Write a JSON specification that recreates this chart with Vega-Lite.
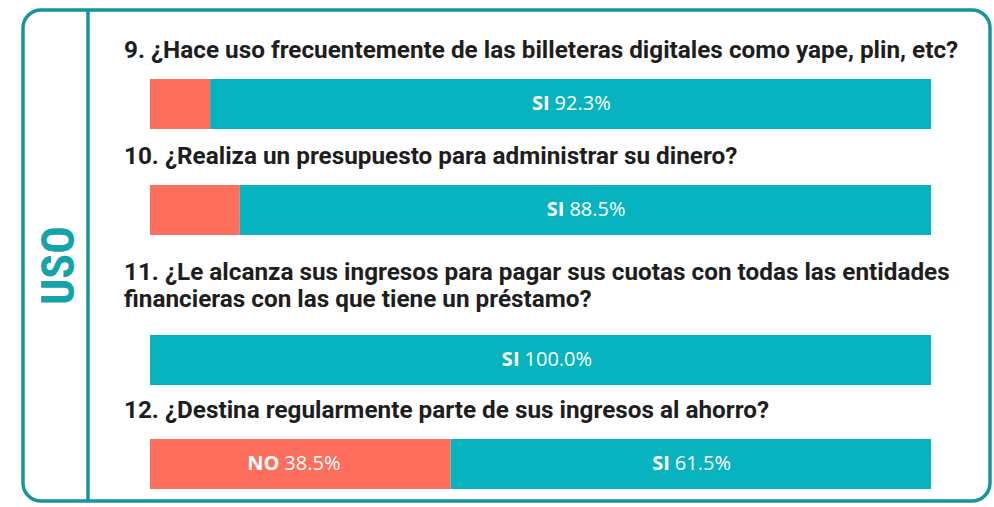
{
  "$schema": "https://vega.github.io/schema/vega-lite/v6.json",
  "width": 994,
  "height": 507,
  "autosize": {"type": "fit", "contains": "padding"},
  "padding": {"left": 23, "top": 8, "right": 4, "bottom": 4},
  "background": "white",
  "config": {
    "view": {"stroke": "#17959c", "strokeWidth": 3.5, "cornerRadius": 18}
  },
  "datasets": {
    "answers": [
      {"q": 9, "answer": "NO", "pct": 7.7},
      {"q": 9, "answer": "SI", "pct": 92.3},
      {"q": 10, "answer": "NO", "pct": 11.5},
      {"q": 10, "answer": "SI", "pct": 88.5},
      {"q": 11, "answer": "SI", "pct": 100.0},
      {"q": 12, "answer": "NO", "pct": 38.5},
      {"q": 12, "answer": "SI", "pct": 61.5}
    ],
    "questions": [
      {"q": 9, "title": "9. ¿Hace uso frecuentemente de las billeteras digitales como yape, plin, etc?"},
      {"q": 10, "title": "10. ¿Realiza un presupuesto para administrar su dinero?"},
      {"q": 11, "title": "11. ¿Le alcanza sus ingresos para pagar sus cuotas con todas las entidades\nfinancieras con las que tiene un préstamo?"},
      {"q": 12, "title": "12. ¿Destina regularmente parte de sus ingresos al ahorro?"}
    ],
    "section": [{"name": "USO"}]
  },
  "layer": [
    {
      "data": {"name": "answers"},
      "mark": {"type": "bar", "size": 50, "orient": "horizontal"},
      "encoding": {
        "x": {"field": "pct", "type": "quantitative", "stack": "zero", "scale": {"domain": [-16.26, 107.55], "nice": false, "zero": false}, "axis": null},
        "y": {"field": "q", "type": "quantitative", "scale": {"domain": [9, 10, 11, 12], "range": [94, 200, 350, 454], "nice": false, "zero": false, "padding": 0}, "axis": null},
        "color": {"field": "answer", "type": "nominal", "scale": {"domain": ["NO", "SI"], "range": ["#fd6e5c", "#07b3bf"]}, "legend": null},
        "order": {"field": "answer", "sort": "ascending"}
      }
    },
    {
      "data": {"name": "section"},
      "mark": {"type": "rule", "color": "#17959c", "strokeWidth": 3.5},
      "encoding": {
        "x": {"datum": -7.94, "type": "quantitative"}
      }
    },
    {
      "data": {"name": "section"},
      "mark": {"type": "text", "angle": 270, "font": "Liberation Sans Narrow, Roboto Condensed, Roboto", "fontWeight": "bold", "fontSize": 46, "color": "#15a2ab", "align": "center", "baseline": "middle"},
      "encoding": {
        "x": {"datum": -11.46, "type": "quantitative"},
        "y": {"datum": 10.37, "type": "quantitative"},
        "text": {"field": "name"}
      }
    },
    {
      "data": {"name": "questions"},
      "transform": [{"filter": "indexof(datum.title, '\\n') < 0"}],
      "mark": {"type": "text", "align": "left", "baseline": "bottom", "lineBreak": "\n", "lineHeight": 27, "font": "Roboto", "fontWeight": "bold", "fontSize": 24.3, "color": "#1e1e1e", "yOffset": -41},
      "encoding": {
        "x": {"datum": -3.33, "type": "quantitative"},
        "y": {"field": "q", "type": "quantitative"},
        "text": {"field": "title"}
      }
    },
    {
      "data": {"name": "questions"},
      "transform": [{"filter": "indexof(datum.title, '\\n') >= 0"}],
      "mark": {"type": "text", "align": "left", "baseline": "bottom", "lineBreak": "\n", "lineHeight": 27, "font": "Roboto", "fontWeight": "bold", "fontSize": 24.3, "color": "#1e1e1e", "yOffset": -75},
      "encoding": {
        "x": {"datum": -3.33, "type": "quantitative"},
        "y": {"field": "q", "type": "quantitative"},
        "text": {"field": "title"}
      }
    },
    {
      "data": {"name": "answers"},
      "mark": {"type": "text", "align": "right", "baseline": "middle", "dx": -21, "font": "Open Sans", "fontWeight": "bold", "fontSize": 20, "color": "white"},
      "encoding": {
        "x": {"field": "pct", "type": "quantitative", "stack": "zero", "bandPosition": 0.5},
        "y": {"field": "q", "type": "quantitative"},
        "order": {"field": "answer", "sort": "ascending"},
        "detail": {"field": "answer"},
        "text": {"condition": {"test": "datum.pct > 20", "field": "answer"}, "value": ""}
      }
    },
    {
      "data": {"name": "answers"},
      "transform": [
        {"calculate": "format(datum.pct, '.1f') + '%'", "as": "pct_label"}
      ],
      "mark": {"type": "text", "align": "left", "baseline": "middle", "dx": -16, "font": "Open Sans", "fontSize": 20, "color": "white"},
      "encoding": {
        "x": {"field": "pct", "type": "quantitative", "stack": "zero", "bandPosition": 0.5},
        "y": {"field": "q", "type": "quantitative"},
        "order": {"field": "answer", "sort": "ascending"},
        "detail": {"field": "answer"},
        "text": {"condition": {"test": "datum.pct > 20", "field": "pct_label"}, "value": ""}
      }
    }
  ]
}
